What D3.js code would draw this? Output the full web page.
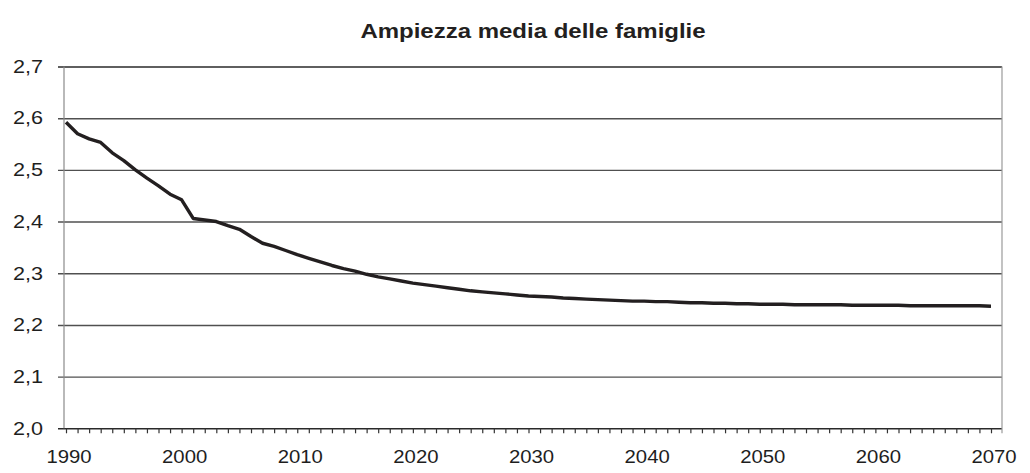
<!DOCTYPE html>
<html>
<head>
<meta charset="utf-8">
<script src="https://cdn.jsdelivr.net/npm/d3@7"></script>
<style>
  body { margin: 0; background: #fff; }
  svg { display: block; font-family: "Liberation Sans", Arial, sans-serif; }
</style>
</head>
<body>
<div id="graphicContainer"></div>
<script>

// data
var years = d3.range(1990, 2071)

var values = [
  2.592, 2.570, 2.560, 2.553, 2.533, 2.518, 2.500, 2.484, 2.469, 2.453,
  2.442, 2.406, 2.403, 2.400, 2.392, 2.385, 2.371, 2.358, 2.352, 2.344,
  2.336, 2.329, 2.322, 2.315, 2.309, 2.304, 2.298, 2.293, 2.289, 2.285,
  2.281, 2.278, 2.275, 2.272, 2.269, 2.266, 2.264, 2.262, 2.260, 2.258,
  2.256, 2.255, 2.254, 2.252, 2.251, 2.250, 2.249, 2.248, 2.247, 2.246,
  2.246, 2.245, 2.245, 2.244, 2.243, 2.243, 2.242, 2.242, 2.241, 2.241,
  2.240, 2.240, 2.240, 2.239, 2.239, 2.239, 2.239, 2.239, 2.238, 2.238,
  2.238, 2.238, 2.238, 2.237, 2.237, 2.237, 2.237, 2.237, 2.237, 2.237,
  2.236
]

var yTicks = [2.0, 2.1, 2.2, 2.3, 2.4, 2.5, 2.6, 2.7]

var xLabels = [1990, 2000, 2010, 2020, 2030, 2040, 2050, 2060, 2070]

var title = "Ampiezza media delle famiglie"

var data = years.map((yr, i) => ({ year: yr, value: values[i] }))

var width = 1030
var height = 473

var plot = { left: 64, right: 1002, top: 66.5, bottom: 428.3 }

var svg = d3.select("#graphicContainer").append("svg")
  .attr("width", width)
  .attr("height", height)

var x = d3.scaleLinear()
  .domain([1990, 2070])
  .range([66, 991])

var y = d3.scaleLinear()
  .domain([2.0, 2.7])
  .range([plot.bottom, plot.top])

// horizontal gridlines (they also stick out left as tick marks)
svg.append("g")
  .attr("transform", `translate(${plot.left - 6},0)`)
  .call(d3.axisLeft(y)
    .tickValues(yTicks)
    .tickSize(-(plot.right - plot.left + 6))
    .tickFormat(""))
  .call(g => g.select(".domain").remove())
  .call(g => g.selectAll(".tick line")
    .attr("stroke", d => d == 2.0 || d == 2.7 ? "#2a2a2a" : "#505050")
    .attr("stroke-width", 1.4))

// y labels
svg.append("g")
  .attr("transform", `translate(${plot.left},0)`)
  .call(d3.axisLeft(y)
    .tickValues(yTicks)
    .tickSize(0)
    .tickPadding(21)
    .tickFormat(d => d3.format(".1f")(d).replace(".", ",")))
  .call(g => g.select(".domain").remove())
  .call(g => g.selectAll("text")
    .attr("font-size", 18)
    .attr("fill", "#1e1e1e")
    .attr("x", -21 / 1.2)
    .attr("transform", "scale(1.2,1)"))

// left axis and right border
svg.append("line")
  .attr("x1", plot.left).attr("x2", plot.left)
  .attr("y1", plot.top).attr("y2", plot.bottom)
  .attr("stroke", "#8a8a8a").attr("stroke-width", 1.2)

svg.append("line")
  .attr("x1", plot.right).attr("x2", plot.right)
  .attr("y1", plot.top).attr("y2", plot.bottom + 5)
  .attr("stroke", "#9a9a9a").attr("stroke-width", 1.2)

// year tick marks
svg.append("g")
  .attr("transform", `translate(0,${plot.bottom})`)
  .call(d3.axisBottom(x)
    .tickValues(years)
    .tickSize(5)
    .tickFormat(""))
  .call(g => g.select(".domain").remove())
  .call(g => g.selectAll(".tick line").attr("stroke", "#333").attr("stroke-width", 1.2))

// x labels
svg.append("g")
  .attr("transform", `translate(0,${plot.bottom})`)
  .call(d3.axisBottom(x)
    .tickValues(xLabels)
    .tickSize(0)
    .tickPadding(21)
    .tickFormat(d => d))
  .call(g => g.select(".domain").remove())
  .call(g => g.selectAll("text")
    .attr("font-size", 19)
    .attr("fill", "#1e1e1e")
    .attr("x", 2.5 / 1.07)
    .attr("transform", "scale(1.07,1)"))

// the series
var line = d3.line()
  .x(d => x(d.year))
  .y(d => y(d.value))

svg.append("path")
  .datum(data)
  .attr("fill", "none")
  .attr("stroke", "#231f20")
  .attr("stroke-width", 3.4)
  .attr("stroke-linejoin", "round")
  .attr("d", line)

// title
svg.append("text")
  .attr("transform", `translate(${(plot.left + plot.right) / 2},38) scale(1.2,1)`)
  .attr("text-anchor", "middle")
  .attr("font-size", 20)
  .attr("font-weight", "bold")
  .attr("fill", "#231f20")
  .text(title)

</script>
</body>
</html>
